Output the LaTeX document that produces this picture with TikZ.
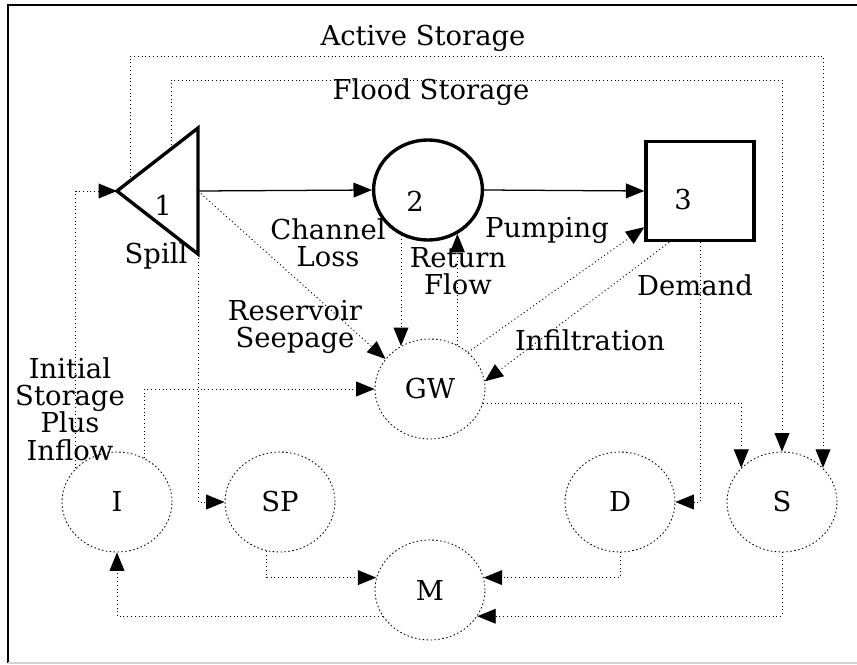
\documentclass[tikz,border=0pt]{standalone}
\usepackage{fontspec}
\setmainfont{DejaVu Serif}
\usetikzlibrary{arrows.meta,positioning,shapes.geometric}

\begin{document}
\begin{tikzpicture}[x=0.025cm,y=-0.025cm,
  every node/.style={font=\fontsize{19.5}{19.5}\selectfont},
  pool/.style={ellipse,draw,dash pattern=on 1.1pt off 1.7pt,line width=0.6pt,
    minimum width=2.75cm,minimum height=2.5cm,inner sep=0pt},
  flow/.style={dotted,line width=0.7pt,-{Triangle[length=0.46cm,width=0.37cm]}},
  link/.style={line width=0.9pt,-{Triangle[length=0.46cm,width=0.37cm]}},
  lbl/.style={align=center,inner sep=0pt}]
\useasboundingbox (0,0) rectangle (857,665);
% frame
\draw[line width=1pt] (857,5) -- (8,5) -- (8,663);
\draw[line width=1pt,gray!35] (8,663) -- (857,663);
% reservoir 1
\coordinate (t1tip) at (117,191);
\coordinate (t1top) at (198,128);
\coordinate (t1bot) at (198,254);
\coordinate (t1out) at (198,191);
\coordinate (t1act) at (130,181);
\coordinate (t1fld) at (171,149);
\draw[line width=2.4pt,line join=miter] (t1tip)--(t1top)--(t1bot)--cycle;
\node (n1) at (163,205) {1};
% reach 2 and demand site 3
\node[ellipse,draw,line width=2.4pt,minimum width=2.72cm,minimum height=2.5cm] (r2) at (428,190) {};
\node (n2) at (415,201) {2};
\node[draw,line width=2.4pt,minimum width=2.7cm,minimum height=2.48cm] (r3) at (700,191) {};
\node (n3) at (683,200) {3};
% accounting nodes
\node[pool] (GW) at (430,389) {GW};
\node[pool] (I) at (117,502) {I};
\node[pool] (SP) at (280,502) {SP};
\node[pool] (D) at (620,502) {D};
\node[pool] (S) at (782,502) {S};
\node[pool] (M) at (430,590) {M};
% storage links
\coordinate (actR) at (823,56);
\coordinate (fldR) at (782,80);
\draw[flow] (t1act) |- (actR) -- (actR |- S.40);
\draw[flow] (t1fld) |- (fldR) -- (S.north);
\node (act) at (423,38) {Active Storage};
\node (fld) at (431,92) {Flood Storage};
% main flows
\draw[link] (t1out) -- (r2.west);
\draw[link] (r2.east) -- (r3.west);
\draw[flow] (I.141) |- (t1tip);
\draw[flow] (I.58) |- (GW.west);
\draw[flow] (t1bot) |- (SP.west);
\draw[flow] (t1out) -- (GW.146);
\draw[flow] (GW.124 |- r2.239) -- (GW.124);
\draw[flow] (GW.58) -- (GW.58 |- r2.304);
\draw[flow] (GW.44) -- (r3.213);
\draw[flow] (r3.239) -- (GW.8);
\draw[flow] (r3.south) |- (D.east);
\draw[flow] (GW.-15) -| (S.140);
% to and from M
\draw[flow] (SP.255) |- (M.167);
\draw[flow] (D.south) |- (M.13);
\draw[flow] (S.south) |- (M.-29);
\draw[flow] (M.-151) -| (I.south);
% labels
\node[lbl] (spill) at (156,256) {Spill};
\node[lbl] (loss) at (328,243) {Channel\\Loss};
\node[lbl] (ret) at (458,271) {Return\\Flow};
\node[lbl] (pump) at (547,230) {Pumping};
\node[lbl] (seep) at (295,327) {Reservoir\\Seepage};
\node[lbl] (inf) at (590,340) {Infiltration};
\node[lbl] (dem) at (695,285) {Demand};
\node[lbl] (init) at (70,409) {Initial\\Storage\\Plus\\Inflow};
\end{tikzpicture}
\end{document}
